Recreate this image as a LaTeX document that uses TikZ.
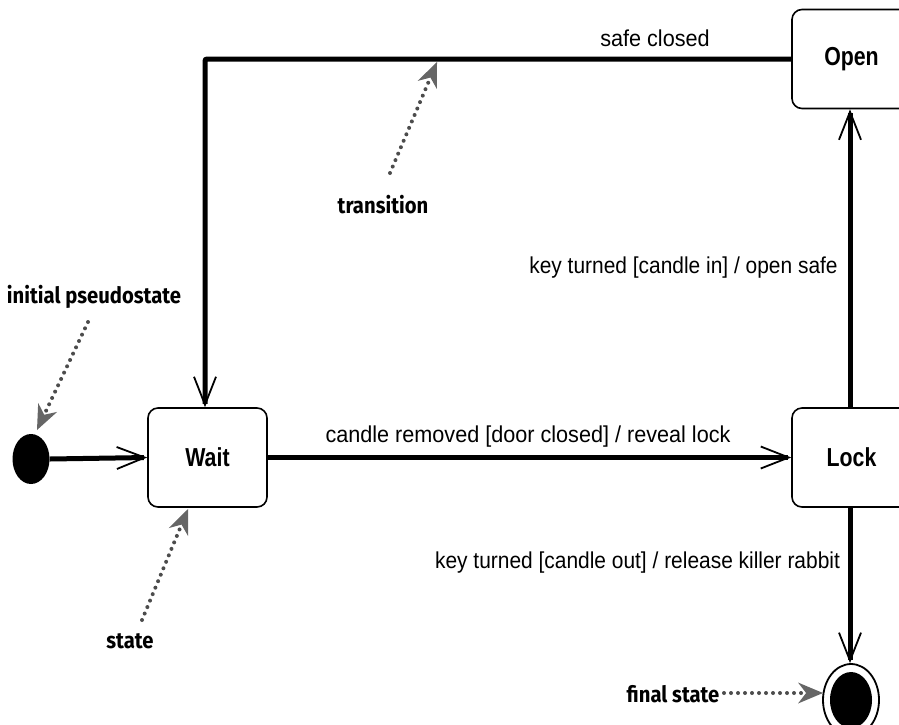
\documentclass[tikz,border=0pt]{standalone}
\usepackage{fontspec}
\usetikzlibrary{arrows.meta,shapes.geometric}
\setmainfont{Liberation Sans}
\newfontfamily\labelfont{Liberation Sans}[FakeStretch=0.94]
\newfontfamily\keylabelfont{Liberation Sans}[FakeStretch=0.91]
\newfontfamily\statefont{Liberation Sans}[FakeStretch=0.82]
\newfontfamily\notefont{Fira Sans}[FakeStretch=0.9]

\tikzset{
  statebox/.style={draw, line width=1.6pt, rounded corners=10pt, fill=white,
    minimum width=119pt, minimum height=99pt, inner sep=0pt,
    font=\statefont\bfseries\fontsize{26}{29}\selectfont},
  flow/.style={line width=5pt, -{Straight Barb[line width=1.8pt, length=28pt, width=22pt]}},
  trlabel/.style={font=\labelfont\fontsize{23}{26}\selectfont, inner sep=0pt},
  keylabel/.style={font=\keylabelfont\fontsize{23}{26}\selectfont, inner sep=0pt},
  note/.style={font=\notefont\bfseries\fontsize{22.5}{25}\selectfont, inner sep=0pt},
  pointer/.style={black!70, line width=4pt, line cap=round,
    dash pattern=on 0pt off 7pt,
    -{Stealth[length=25pt, width=21pt, line width=0pt, fill=black!60]}},
}

\begin{document}
\begin{tikzpicture}[x=1pt, y=-1pt]
  \useasboundingbox (0,0) rectangle (899,724);

  % states
  \node[ellipse, fill=black, minimum width=37pt, minimum height=50pt, inner sep=0pt] (init) at (31,459) {};
  \node[statebox] (wait) at (207.5,457.5) {Wait};
  \node[statebox] (lock) at (851.5,457.5) {Lock};
  \node[statebox] (open) at (851.5,59) {Open};

  % final state: ring with a black core
  \node[ellipse, draw, line width=1.8pt, fill=white, minimum width=56pt, minimum height=72pt, inner sep=0pt] (final) at (851,700) {};
  \node[ellipse, fill=black, minimum width=42pt, minimum height=56pt, inner sep=0pt] (finalcore) at (851,700) {};

  % transitions
  \draw[flow] (init.east) -- (wait.west);
  \draw[flow] (wait.east) -- (lock.west);
  \draw[flow] (lock.north -| 850,0) -- (open.south -| 850,0);
  \draw[flow] (lock.south -| 850,0) -- (final.north -| 850,0);
  \draw[flow, rounded corners=2pt] (open.west) -| (wait.north -| 205,0);

  % transition labels
  \node[trlabel] (lsafe) at (655,38) {safe closed};
  \node[keylabel] (lkeyin) at (683.5,268) {key turned [candle in] / open safe};
  \node[trlabel] (lcandle) at (528,437) {candle removed [door closed] / reveal lock};
  \node[keylabel] (lkeyout) at (637.5,563) {key turned [candle out] / release killer rabbit};

  % annotations
  \node[note] (ninit) at (94,297) {initial pseudostate};
  \node[note] (ntrans) at (383,205) {transition};
  \node[note] (nstate) at (130,641) {state};
  \node[note] (nfinal) at (673,694) {final state};

  \coordinate (pinit) at (37,430);
  \coordinate (ptrans) at (437,62);
  \coordinate (pstate) at (188,509);
  \coordinate (pfinal) at (823,693);

  \draw[pointer] (88,322) -- (pinit);
  \draw[pointer] (390,173) -- (ptrans);
  \draw[pointer] (142,620) -- (pstate);
  \draw[pointer] (724,693) -- (pfinal);
\end{tikzpicture}
\end{document}
